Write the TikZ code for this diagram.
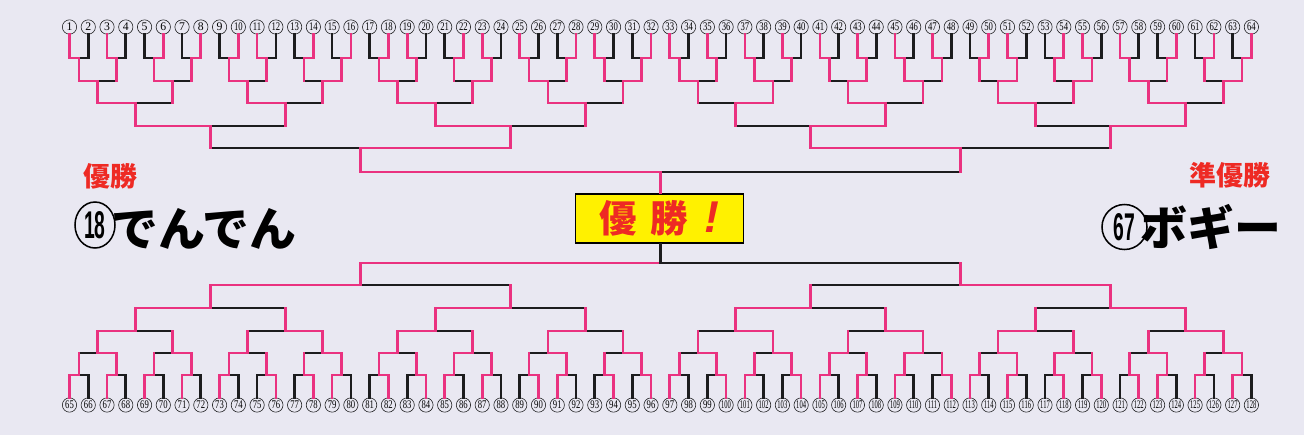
\documentclass[tikz,border=0pt]{standalone}
\usepackage{fontspec}
\usepackage{graphicx}
\usetikzlibrary{shapes.geometric}
\newfontfamily\jpfont{Noto Sans CJK JP}
\newfontfamily\digitfont{Liberation Sans}
\newfontfamily\seedfont{Liberation Serif}
\definecolor{paper}{RGB}{233,232,242}
\definecolor{markpink}{RGB}{234,50,128}
\definecolor{inkline}{RGB}{28,28,30}
\definecolor{prizered}{RGB}{238,42,36}
\definecolor{boxyellow}{RGB}{255,241,0}

% narrow the seed numbers so that they fit their circles
\newcommand\seednum[1]{\ifnum#1<10 #1\else\ifnum#1<100 \scalebox{0.74}[1]{#1}\else\scalebox{0.56}[1]{#1}\fi\fi}

% one round: prefix, seed offset, round, y of the round, winners (L/R)
\newcommand\bracketround[5]{%
  \foreach \w [count=\mi] in {#5} {
    \pgfmathsetmacro\xc{69.5+((\mi-1)*2^#3+(2^#3-1)/2)*18.76}
    \coordinate (#1k#3m\mi) at (\xc,#4);
    \pgfmathtruncatemacro\cleft{2*\mi-1}
    \pgfmathtruncatemacro\cright{2*\mi}
    \ifnum#3=1
      \pgfmathtruncatemacro\cleft{\cleft+#2}
      \pgfmathtruncatemacro\cright{\cright+#2}
      \edef\chl{#1\cleft}\edef\chr{#1\cright}
    \else
      \pgfmathtruncatemacro\kp{#3-1}
      \edef\chl{#1k\kp m\cleft}\edef\chr{#1k\kp m\cright}
    \fi
    \if\w L\let\chw\chl\let\cho\chr\else\let\chw\chr\let\cho\chl\fi
    \ifnum#3=1
      \draw[lost] (\cho) |- (#1k#3m\mi);
    \else
      \draw[lost] (\cho |- #1k#3m\mi) -- (#1k#3m\mi);
      \draw[won] (\cho) -- (\cho |- #1k#3m\mi);
    \fi
    \draw[won] (\chw) |- (#1k#3m\mi);
  }}

\begin{document}
\begin{tikzpicture}[x=0.03cm,y=-0.03cm,
  won/.style={draw=markpink,line width=2.3pt,line cap=rect},
  lost/.style={draw=inkline,line width=2.3pt,line cap=rect},
  seed/.style={circle,draw=inkline,line width=0.5pt,minimum size=0.43cm,inner sep=0pt,
    font=\seedfont\fontsize{10}{10}\selectfont},
  bigseed/.style={ellipse,draw=black,line width=1.3pt,inner sep=0pt,
    font=\digitfont\bfseries\fontsize{33}{33}\selectfont},
  prize/.style={text=prizered,font=\jpfont\bfseries\fontsize{23}{23}\selectfont},
  player/.style={font=\jpfont\bfseries\fontsize{40}{40}\selectfont}]

\fill[paper] (0,0) rectangle (1304,435);
\useasboundingbox (0,0) rectangle (1304,435);

% seeds 1-64 on top, 65-128 below
\foreach \i in {1,...,64}
  \node[seed] (t\i) at ({69.5+(\i-1)*18.76},27) {\seednum{\i}};
\foreach \i in {65,...,128}
  \node[seed] (b\i) at ({69.5+(\i-65)*18.76},405) {\seednum{\i}};

% upper half
\bracketround{t}{0}{1}{58}{L,L,R,R,R,L,R,R,R,L,R,L,L,R,L,R,L,L,L,L,L,L,L,L,R,L,R,L,L,R,R,R}
\bracketround{t}{0}{2}{81}{L,L,L,R,L,R,L,R,L,L,R,L,R,R,L,R}
\bracketround{t}{0}{3}{103}{L,L,L,L,R,L,L,L}
\bracketround{t}{0}{4}{126}{L,L,R,R}
\bracketround{t}{0}{5}{148}{R,L}
\bracketround{t}{0}{6}{172}{L}

% lower half
\bracketround{b}{64}{1}{375}{L,L,L,L,L,R,R,L,R,R,L,L,R,L,R,R,L,R,L,R,L,L,L,R,L,L,R,R,R,L,L,L}
\bracketround{b}{64}{2}{353}{R,R,L,R,L,L,R,R,R,R,L,L,R,L,R,R}
\bracketround{b}{64}{3}{331}{L,R,L,L,R,R,L,R}
\bracketround{b}{64}{4}{308}{L,L,L,R}
\bracketround{b}{64}{5}{285}{L,R}
\bracketround{b}{64}{6}{263}{L}

% final
\node[draw=black,line width=1.6pt,fill=boxyellow,minimum width=5.04cm,minimum height=1.47cm,
  inner sep=0pt,text=prizered,font=\jpfont\bfseries\fontsize{32}{32}\selectfont]
  (champ) at (659.5,218.5) {優\hspace{0.35em}勝\hspace{0.45em}{\digitfont\itshape\fontsize{38}{38}\selectfont !}};
\draw[won] (tk6m1) -- (tk6m1 |- champ.north);
\draw[lost] (bk6m1) -- (bk6m1 |- champ.south);

% results
\node[prize] (firstlabel) at (110,176) {優勝};
\node[bigseed,minimum width=1.2cm,minimum height=1.38cm] (firstseed) at (95,225)
  {\scalebox{0.5}[1]{18}};
\node[player] (firstname) at (204,228.5) {でんでん};
\node[prize] (secondlabel) at (1230,175) {準優勝};
\node[bigseed,minimum width=1.35cm,minimum height=1.35cm] (secondseed) at (1124.5,227)
  {\scalebox{0.5}[1]{67}};
\node[player] (secondname) at (1211,227) {ボギー};
\end{tikzpicture}
\end{document}
